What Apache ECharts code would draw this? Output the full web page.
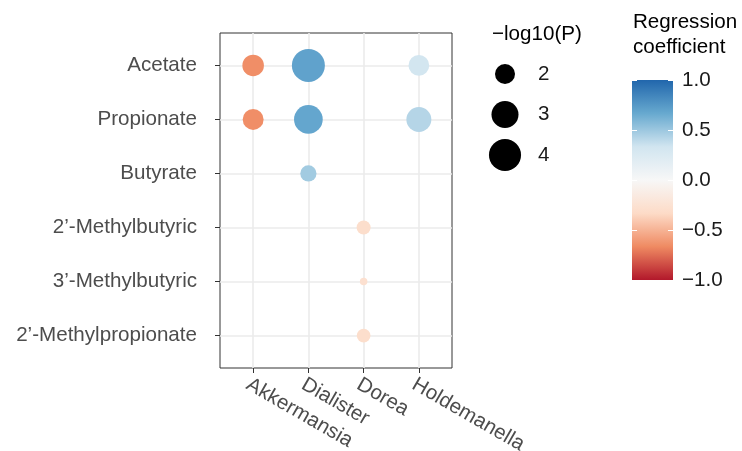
<!DOCTYPE html>
<html>
<head>
<meta charset="utf-8">
<script src="https://cdn.jsdelivr.net/npm/echarts@6/dist/echarts.min.js"></script>
<style>
  html, body { margin: 0; padding: 0; background: #fff; }
  #chart { width: 742px; height: 451px; }
</style>
</head>
<body>
<div id="chart"></div>
<script>
// categories
const genera = ['Akkermansia', 'Dialister', 'Dorea', 'Holdemanella'];
const acids = ['Acetate', 'Propionate', 'Butyrate', '2’-Methylbutyric', '3’-Methylbutyric', '2’-Methylpropionate'];

// one entry per bubble
const pointGenus = ['Akkermansia', 'Dialister', 'Holdemanella', 'Akkermansia', 'Dialister', 'Holdemanella', 'Dialister', 'Dorea', 'Dorea', 'Dorea'];
const pointAcid = ['Acetate', 'Acetate', 'Acetate', 'Propionate', 'Propionate', 'Propionate', 'Butyrate', '2’-Methylbutyric', '3’-Methylbutyric', '2’-Methylpropionate'];
const pointLogP = [2.18, 4.2, 2.08, 2.1, 3.3, 2.66, 1.64, 1.49, 1.3, 1.47];
const pointCoef = [-0.65, 0.7, 0.32, -0.65, 0.68, 0.42, 0.48, -0.3, -0.27, -0.3];

// legends
const sizeLegendValues = [2, 3, 4];
const colorbarTicks = [-1, -0.5, 0, 0.5, 1];
const rdbu = ['#b2182b', '#ef8a62', '#fddbc7', '#f7f7f7', '#d1e5f0', '#67a9cf', '#2166ac'];

const FONT = '"Liberation Sans", Arial, Helvetica, sans-serif';
const FS = 20.6;

// area-style size scale, like ggplot scale_size
function bubbleSize(p) {
  const t = Math.max(0, (p - 1.3) / (4.2 - 1.3));
  return 7.5 + 25.5 * Math.sqrt(t);
}

function minusFmt(v) {
  const s = Math.abs(v).toFixed(1);
  return v < 0 ? '\u2212' + s : s;
}

const points = pointGenus.map((g, i) => [
  genera.indexOf(g), acids.indexOf(pointAcid[i]), pointLogP[i], pointCoef[i]
]);

const gradStops = rdbu.map((c, i) => ({ offset: i / (rdbu.length - 1), color: rdbu[rdbu.length - 1 - i] }));

const chart = echarts.init(document.getElementById('chart'));

const option = {
  animation: false,
  backgroundColor: '#fff',
  textStyle: { fontFamily: FONT },
  title: [
    {
      text: '\u2212log10(P)', left: 492, top: 22, padding: 0,
      textStyle: { fontSize: FS, fontWeight: 'normal', color: '#000', lineHeight: 25, fontFamily: FONT }
    },
    {
      text: 'Regression\ncoefficient', left: 633, top: 10, padding: 0,
      textStyle: { fontSize: FS, fontWeight: 'normal', color: '#000', lineHeight: 25, fontFamily: FONT }
    }
  ],
  grid: [
    {
      left: 220, right: 290, top: 33, bottom: 83, outerBoundsMode: 'none',
      show: true, borderColor: '#333', borderWidth: 1, backgroundColor: '#fff'
    },
    { left: 480, right: 212, top: 53.75, bottom: 275.75, outerBoundsMode: 'none' },
    {
      left: 632, right: 69, top: 80, bottom: 171, outerBoundsMode: 'none', show: true, borderWidth: 0,
      backgroundColor: new echarts.graphic.LinearGradient(0, 0, 0, 1, gradStops)
    }
  ],
  xAxis: [
    {
      gridIndex: 0, type: 'value', min: -0.6, max: 3.6,
      axisLine: { show: false, onZero: false },
      axisTick: { customValues: genera.map((g, i) => i), length: 5, lineStyle: { color: '#333', width: 1 } },
      axisLabel: {
        customValues: genera.map((g, i) => i),
        formatter: v => genera[Math.round(v)],
        rotate: -30, verticalAlign: 'top', fontSize: FS, color: '#4d4d4d', margin: 6, fontFamily: FONT
      },
      splitLine: { show: true, lineStyle: { color: '#ebebeb', width: 1.6 } }
    },
    { gridIndex: 1, type: 'value', min: -1, max: 1, show: false },
    { gridIndex: 2, type: 'value', min: 0, max: 1, show: false }
  ],
  yAxis: [
    {
      gridIndex: 0, type: 'value', inverse: true, min: -0.6, max: 5.6,
      axisLine: { show: false, onZero: false },
      axisTick: { customValues: acids.map((a, i) => i), length: 5, lineStyle: { color: '#333', width: 1 } },
      axisLabel: {
        customValues: acids.map((a, i) => i),
        formatter: v => acids[Math.round(v)],
        fontSize: FS, color: '#4d4d4d', margin: 23, fontFamily: FONT
      },
      splitLine: { show: true, lineStyle: { color: '#ebebeb', width: 1.6 } }
    },
    {
      gridIndex: 1, type: 'category', inverse: true, position: 'right',
      data: sizeLegendValues.map(String),
      axisLine: { show: false, onZero: false }, axisTick: { show: false }, splitLine: { show: false },
      axisLabel: { fontSize: FS, color: '#1a1a1a', margin: 8, fontFamily: FONT }
    },
    {
      gridIndex: 2, type: 'value', position: 'right', min: -1, max: 1,
      axisLine: { show: false, onZero: false }, splitLine: { show: false },
      axisTick: { customValues: colorbarTicks, inside: true, length: 5, lineStyle: { color: '#fff', width: 1 } },
      axisLabel: { customValues: colorbarTicks, formatter: minusFmt, fontSize: FS, color: '#1a1a1a', margin: 9, fontFamily: FONT }
    },
    {
      gridIndex: 2, type: 'value', position: 'left', min: -1, max: 1,
      axisLine: { show: false, onZero: false }, splitLine: { show: false }, axisLabel: { show: false },
      axisTick: { customValues: colorbarTicks, inside: true, length: 5, lineStyle: { color: '#fff', width: 1 } }
    }
  ],
  visualMap: {
    type: 'continuous', show: false, seriesIndex: 0, dimension: 3,
    min: -1, max: 1, inRange: { color: rdbu }
  },
  series: [
    {
      type: 'scatter', xAxisIndex: 0, yAxisIndex: 0,
      data: points,
      symbolSize: v => bubbleSize(v[2]),
      itemStyle: { opacity: 1 }
    },
    {
      type: 'scatter', xAxisIndex: 1, yAxisIndex: 1,
      data: sizeLegendValues.map((v, i) => [0, i, v]),
      symbolSize: v => bubbleSize(v[2]),
      itemStyle: { color: '#000', opacity: 1 }
    }
  ]
};

chart.setOption(option);
</script>
</body>
</html>
